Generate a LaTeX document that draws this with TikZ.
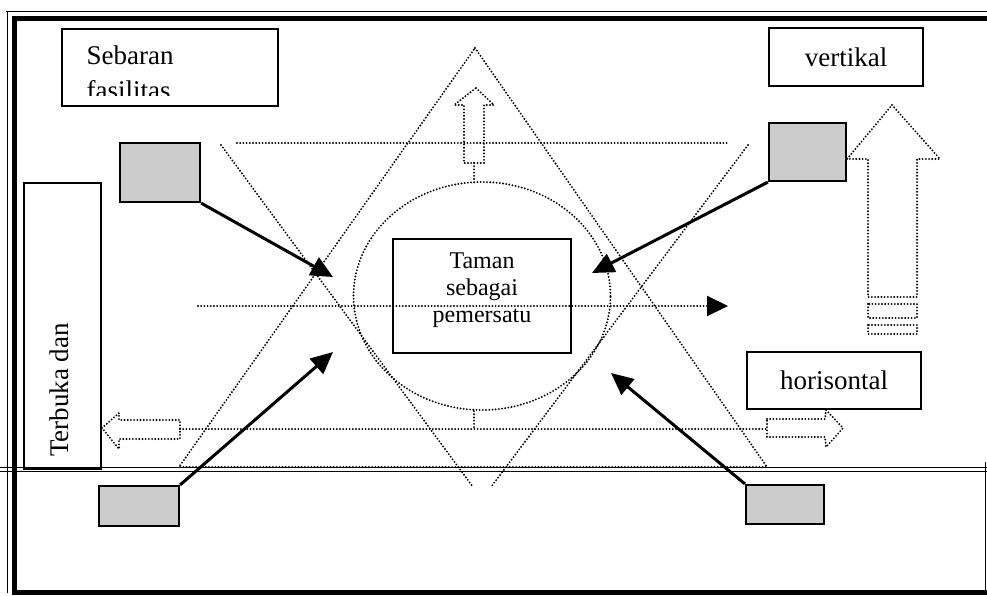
\documentclass[tikz,border=0pt]{standalone}
\usepackage{fontspec}
\setmainfont{Liberation Serif}
\usetikzlibrary{arrows.meta,shapes.geometric}
\begin{document}
\begin{tikzpicture}[x=1pt,y=-1pt,
  dotline/.style={line width=2.1pt, line cap=round, dash pattern=on 0pt off 3.2pt},
  labelbox/.style={draw, line width=1.4pt, inner sep=0pt, font=\fontsize{27}{29}\selectfont},
  patch/.style={draw, line width=2.2pt, fill=black!20, inner sep=0pt},
  pointer/.style={line width=3pt, line cap=butt, -{Triangle[length=22pt,width=20pt]}},
  frameline/.style={line width=5pt},
  thinline/.style={line width=1pt},
]
\useasboundingbox (0,0) rectangle (987,595);

% outer frame
\draw[thinline] (6,11) -- (987,11);
\draw[frameline] (12,18) -- (987,18);
\draw[thinline] (7,11) -- (7,593);
\draw[frameline] (14,16) -- (14,595);
\draw[frameline] (12,592.5) -- (987,592.5);
\draw[thinline] (985.5,462) -- (985.5,593);
% double rule across the sheet
\draw[thinline] (0,467) -- (987,467);
\draw[thinline] (0,471) -- (987,471);

% label boxes
\node[labelbox, minimum width=216pt, minimum height=77pt] (fas) at (170,67.5) {};
\node[anchor=base west, font=\fontsize{27}{29}\selectfont] (fas1) at (83,64) {Sebaran};
\begin{scope}
  \clip (62,70) rectangle (278,95.5);
  \node[anchor=base west, font=\fontsize{27}{29}\selectfont] (fas2) at (83,99) {fasilitas};
\end{scope}
\node[labelbox, minimum width=154pt, minimum height=58pt] (vert) at (846,57) {vertikal};
\node[labelbox, minimum width=174pt, minimum height=57pt] (hori) at (834,380.5) {horisontal};
\node[labelbox, minimum width=77pt, minimum height=286pt] (open) at (62.5,326) {};
\node[rotate=90, font=\fontsize{27}{29}\selectfont] (opentext) at (59,390) {Terbuka dan};

% star of two triangles
\draw[dotline] (475,48) -- (767,467) -- (179,467) -- cycle;
\draw[dotline] (221,145) -- (473,487);
\draw[dotline] (748,145) -- (491,487);
\draw[dotline] (237,143) -- (728,143);

% ring and centre
\node[ellipse, draw, dotline, minimum width=257pt, minimum height=228pt, inner sep=0pt] (ring) at (482,296) {};
\node[draw, line width=1.4pt, minimum width=178pt, minimum height=114pt, inner sep=0pt] (taman) at (482,296) {};
\node[align=center, font=\fontsize{24}{27}\selectfont] (tamantext) at ([yshift=6pt]taman.center) {Taman\\sebagai\\pemersatu};

% axis lines
\coordinate (midL) at (198,306);
\coordinate (midR) at (728,306);
\draw[dotline, -{Triangle[length=21pt,width=20pt]}] (midL) -- (midR);
\draw[dotline] (180,429) -- (767,429);

% small up arrow above the ring
\draw[dotline] (476,88) -- (494,105) -- (484,105) -- (484,163) -- (464,163) -- (464,105) -- (454,105) -- cycle;
\coordinate (upfoot) at (474,163);
\draw[dotline] (upfoot) -- (ring.north -| upfoot);
\coordinate (downfoot) at (474,429);
\draw[dotline] (ring.south -| downfoot) -- (downfoot);

% horizontal block arrows
\draw[dotline] (102,428) -- (119,413) -- (119,420) -- (180,420) -- (180,439) -- (119,439) -- (119,449) -- cycle;
\draw[dotline] (767,419) -- (825,419) -- (826,410) -- (843,428) -- (826,447) -- (825,437) -- (767,437) -- cycle;

% large vertical block arrow
\draw[dotline] (892,105) -- (940,159) -- (917,159) -- (917,297) -- (868,297) -- (868,159) -- (847,159) -- cycle;
\draw[dotline] (868,304) rectangle (917,318);
\draw[dotline] (868,325) rectangle (917,334);

% shaded patches
\node[patch, minimum width=80pt, minimum height=59pt] (pTL) at (160,172.5) {};
\node[patch, minimum width=77pt, minimum height=58pt] (pTR) at (807.5,152) {};
\node[patch, minimum width=80pt, minimum height=40pt] (pBL) at (139,506) {};
\node[patch, minimum width=78pt, minimum height=39pt] (pBR) at (785,504.5) {};

% pointers towards the centre
\coordinate (tipTL) at (333,277);
\coordinate (tipTR) at (592,273);
\coordinate (tipBL) at (333,352);
\coordinate (tipBR) at (611,373);
\draw[pointer] (pTL.south east) -- (tipTL);
\draw[pointer] (pTR.south west) -- (tipTR);
\draw[pointer] (pBL.north east) -- (tipBL);
\draw[pointer] (pBR.north west) -- (tipBR);
\end{tikzpicture}
\end{document}
